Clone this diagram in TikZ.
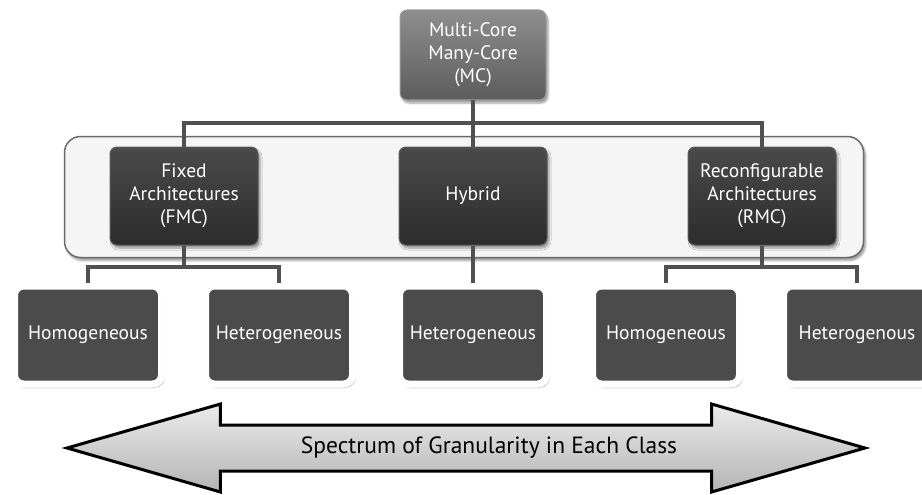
\documentclass[tikz,border=0pt]{standalone}
\usepackage{fontspec}
\setmainfont{PT Sans}
\usetikzlibrary{positioning,fit,calc,backgrounds,shapes.arrows,shadows.blur}
\definecolor{roottop}{HTML}{8E8E8E}
\definecolor{rootbottom}{HTML}{5C5C5C}
\definecolor{rootedge}{HTML}{9C9C9C}
\definecolor{classtop}{HTML}{4A4A4A}
\definecolor{classbottom}{HTML}{2C2C2C}
\definecolor{classedge}{HTML}{5A5A5A}
\definecolor{leaffill}{HTML}{4B4B4B}
\definecolor{groupfill}{HTML}{F5F5F5}
\definecolor{groupedge}{HTML}{6A6A6A}
\definecolor{linegray}{HTML}{505050}
\definecolor{spectop}{HTML}{EBEBEB}
\definecolor{specbottom}{HTML}{B4B4B4}
\tikzset{
  box/.style={rounded corners=7pt,align=center,text=white,inner sep=2pt,font=\fontsize{19.5}{23}\selectfont,blur shadow={shadow xshift=2pt,shadow yshift=-3pt,shadow blur steps=6}},
  rootbox/.style={box,draw=rootedge,line width=1pt,top color=roottop,bottom color=rootbottom,minimum width=146pt,minimum height=90pt},
  classbox/.style={box,draw=classedge,line width=1pt,top color=classtop,bottom color=classbottom,minimum width=148pt,minimum height=98pt},
  leafbox/.style={box,draw=white,line width=7pt,fill=leaffill,rounded corners=9pt,minimum width=147pt,minimum height=98pt},
  groupbox/.style={draw=groupedge,line width=1.5pt,fill=groupfill,rounded corners=16pt,inner sep=0pt,blur shadow={shadow xshift=2pt,shadow yshift=-3pt,shadow blur steps=6}},
  tree/.style={draw=linegray,line width=4pt},
  spectrumarrow/.style={double arrow,draw=black,line width=3pt,top color=spectop,bottom color=specbottom,font=\fontsize{23.5}{27}\selectfont,text height=16pt,text depth=5pt,inner xsep=0pt,inner ysep=11pt,double arrow head extend=21pt,double arrow tip angle=32,minimum height=798pt}
}
\begin{document}
\begin{tikzpicture}
  \clip (0,0) rectangle (922pt,-495pt);
  \node[rootbox] at (473pt,-55pt) (mc) {Multi-Core\\Many-Core\\(MC)};
  \node[classbox,below=46pt of mc] (hybrid) {Hybrid};
  \node[classbox,left=140pt of hybrid] (fmc) {Fixed\\Architectures\\(FMC)};
  \node[classbox,right=140pt of hybrid] (rmc) {Reconfigurable\\Architectures\\(RMC)};
  \node[leafbox,below=37pt of hybrid] (hethybrid) {Heterogeneous};
  \node[leafbox,below=37pt of fmc,xshift=-96pt] (homfixed) {Homogeneous};
  \node[leafbox,right=37pt of homfixed] (hetfixed) {Heterogeneous};
  \node[leafbox,below=37pt of rmc,xshift=-96pt] (homreconf) {Homogeneous};
  \node[leafbox,right=37pt of homreconf] (hetreconf) {Heterogenous};
  \begin{scope}[on background layer]
    \node[groupbox,fit={($(fmc.north west)+(-45pt,10pt)$) ($(rmc.south east)+(27pt,-12pt)$)}] (classes) {};
  \end{scope}
  \draw[tree] (fmc.north) -- ++(0,23pt) -| (rmc.north);
  \draw[tree] (mc.south) -- (hybrid.north);
  \draw[tree] (homfixed.north) -- ++(0,16pt) -| (hetfixed.north);
  \draw[tree] (fmc.south) -- ($(fmc.south)+(0,-21pt)$);
  \draw[tree] (homreconf.north) -- ++(0,16pt) -| (hetreconf.north);
  \draw[tree] (rmc.south) -- ($(rmc.south)+(0,-21pt)$);
  \draw[tree] (hybrid.south) -- (hethybrid.north);
  \node[spectrumarrow] at (466pt,-448pt) (spectrum) {\hspace*{46pt}Spectrum of Granularity in Each Class};
\end{tikzpicture}
\end{document}
